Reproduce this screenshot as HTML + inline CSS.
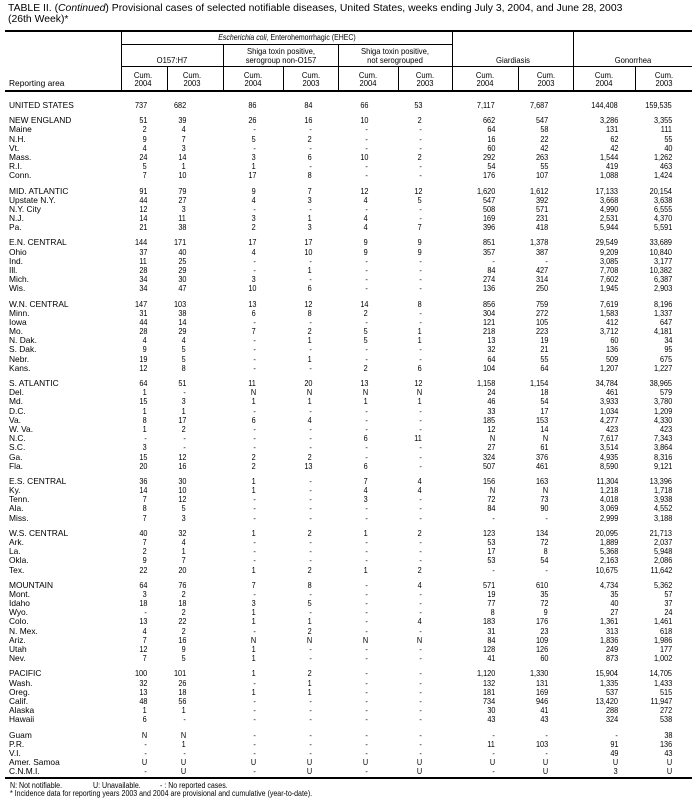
<!DOCTYPE html>
<html><head><meta charset="utf-8"><style>
*{margin:0;padding:0}
body{width:695px;height:811px;position:relative;background:#fff;color:#000;font-family:"Liberation Sans",Arial,sans-serif;overflow:hidden}
.ti{position:absolute;left:8px;font-size:10.4px;line-height:10px;white-space:nowrap}
.l{position:absolute;background:#000}
.h{position:absolute;font-size:8.5px;line-height:10px;white-space:nowrap;transform:translateX(-50%) scaleX(.9);transform-origin:50% 50%}
.h.e{transform:translateX(-50%) scaleX(.82)}
.g{position:absolute;left:0;width:695px}
.r{position:relative;height:9.2px;font-size:8.4px;line-height:10px}
.r span{position:absolute;top:0;white-space:nowrap}
.r span:first-child{left:9px}
.r span+span{font-size:8.5px;transform:scaleX(.86);transform-origin:100% 50%}
.r span:nth-child(2){right:548px}
.r span:nth-child(3){right:509px}
.r span:nth-child(4){right:439px}
.r span:nth-child(5){right:383px}
.r span:nth-child(6){right:327px}
.r span:nth-child(7){right:273px}
.r span:nth-child(8){right:200px}
.r span:nth-child(9){right:147px}
.r span:nth-child(10){right:77px}
.r span:nth-child(11){right:23px}
.fn{position:absolute;font-size:8px;line-height:10px;white-space:nowrap;transform:scaleX(.88);transform-origin:0 50%}
.ra{position:absolute;left:9px;top:78px;font-size:8.4px;line-height:10px;white-space:nowrap}
</style></head><body>

<div class="ti" style="top:4.3px">TABLE II. (<i>Continued</i>) Provisional cases of selected notifiable diseases, United States, weeks ending July 3, 2004, and June 28, 2003</div>
<div class="ti" style="top:14.6px">(26th Week)*</div>

<!-- rules -->
<div class="l" style="left:5px;top:30px;width:687px;height:2px"></div>
<div class="l" style="left:121px;top:44px;width:331px;height:1px"></div>
<div class="l" style="left:121px;top:66px;width:571px;height:1px"></div>
<div class="l" style="left:5px;top:90px;width:687px;height:2px"></div>
<div class="l" style="left:121px;top:30px;width:1px;height:60px"></div>
<div class="l" style="left:452px;top:30px;width:1px;height:60px"></div>
<div class="l" style="left:573px;top:30px;width:1px;height:60px"></div>
<div class="l" style="left:223px;top:44px;width:1px;height:46px"></div>
<div class="l" style="left:338px;top:44px;width:1px;height:46px"></div>
<div class="l" style="left:167px;top:66px;width:1px;height:24px"></div>
<div class="l" style="left:283px;top:66px;width:1px;height:24px"></div>
<div class="l" style="left:398px;top:66px;width:1px;height:24px"></div>
<div class="l" style="left:518px;top:66px;width:1px;height:24px"></div>
<div class="l" style="left:635px;top:66px;width:1px;height:24px"></div>
<div class="l" style="left:5px;top:777px;width:687px;height:2px"></div>

<!-- header text -->
<div class="h e" style="left:286.5px;top:32px"><i>Escherichia coli,</i> Enterohemorrhagic (EHEC)</div>
<div class="h" style="left:172px;top:54.5px">O157:H7</div>
<div class="h" style="left:280.5px;top:46px">Shiga toxin positive,</div>
<div class="h" style="left:280.5px;top:54.5px">serogroup non-O157</div>
<div class="h" style="left:395px;top:46px">Shiga toxin positive,</div>
<div class="h" style="left:395px;top:54.5px">not serogrouped</div>
<div class="h" style="left:512.5px;top:54.5px">Giardiasis</div>
<div class="h" style="left:633px;top:54.5px">Gonorrhea</div>

<div class="h" style="left:143px;top:69.5px">Cum.</div><div class="h" style="left:143px;top:77.5px">2004</div>
<div class="h" style="left:192px;top:69.5px">Cum.</div><div class="h" style="left:192px;top:77.5px">2003</div>
<div class="h" style="left:253px;top:69.5px">Cum.</div><div class="h" style="left:253px;top:77.5px">2004</div>
<div class="h" style="left:310.5px;top:69.5px">Cum.</div><div class="h" style="left:310.5px;top:77.5px">2003</div>
<div class="h" style="left:368px;top:69.5px">Cum.</div><div class="h" style="left:368px;top:77.5px">2004</div>
<div class="h" style="left:425px;top:69.5px">Cum.</div><div class="h" style="left:425px;top:77.5px">2003</div>
<div class="h" style="left:485px;top:69.5px">Cum.</div><div class="h" style="left:485px;top:77.5px">2004</div>
<div class="h" style="left:545.5px;top:69.5px">Cum.</div><div class="h" style="left:545.5px;top:77.5px">2003</div>
<div class="h" style="left:604px;top:69.5px">Cum.</div><div class="h" style="left:604px;top:77.5px">2004</div>
<div class="h" style="left:663.5px;top:69.5px">Cum.</div><div class="h" style="left:663.5px;top:77.5px">2003</div>
<div class="ra">Reporting area</div>

<!-- body -->
<div class="g" style="top:100.1px">
<div class="r"><span>UNITED STATES</span><span>737</span><span>682</span><span>86</span><span>84</span><span>66</span><span>53</span><span>7,117</span><span>7,687</span><span>144,408</span><span>159,535</span></div>
</div>

<div class="g" style="top:115.2px">
<div class="r"><span>NEW ENGLAND</span><span>51</span><span>39</span><span>26</span><span>16</span><span>10</span><span>2</span><span>662</span><span>547</span><span>3,286</span><span>3,355</span></div>
<div class="r"><span>Maine</span><span>2</span><span>4</span><span>-</span><span>-</span><span>-</span><span>-</span><span>64</span><span>58</span><span>131</span><span>111</span></div>
<div class="r"><span>N.H.</span><span>9</span><span>7</span><span>5</span><span>2</span><span>-</span><span>-</span><span>16</span><span>22</span><span>62</span><span>55</span></div>
<div class="r"><span>Vt.</span><span>4</span><span>3</span><span>-</span><span>-</span><span>-</span><span>-</span><span>60</span><span>42</span><span>42</span><span>40</span></div>
<div class="r"><span>Mass.</span><span>24</span><span>14</span><span>3</span><span>6</span><span>10</span><span>2</span><span>292</span><span>263</span><span>1,544</span><span>1,262</span></div>
<div class="r"><span>R.I.</span><span>5</span><span>1</span><span>1</span><span>-</span><span>-</span><span>-</span><span>54</span><span>55</span><span>419</span><span>463</span></div>
<div class="r"><span>Conn.</span><span>7</span><span>10</span><span>17</span><span>8</span><span>-</span><span>-</span><span>176</span><span>107</span><span>1,088</span><span>1,424</span></div>
</div>

<div class="g" style="top:185.5px">
<div class="r"><span>MID. ATLANTIC</span><span>91</span><span>79</span><span>9</span><span>7</span><span>12</span><span>12</span><span>1,620</span><span>1,612</span><span>17,133</span><span>20,154</span></div>
<div class="r"><span>Upstate N.Y.</span><span>44</span><span>27</span><span>4</span><span>3</span><span>4</span><span>5</span><span>547</span><span>392</span><span>3,668</span><span>3,638</span></div>
<div class="r"><span>N.Y. City</span><span>12</span><span>3</span><span>-</span><span>-</span><span>-</span><span>-</span><span>508</span><span>571</span><span>4,990</span><span>6,555</span></div>
<div class="r"><span>N.J.</span><span>14</span><span>11</span><span>3</span><span>1</span><span>4</span><span>-</span><span>169</span><span>231</span><span>2,531</span><span>4,370</span></div>
<div class="r"><span>Pa.</span><span>21</span><span>38</span><span>2</span><span>3</span><span>4</span><span>7</span><span>396</span><span>418</span><span>5,944</span><span>5,591</span></div>
</div>

<div class="g" style="top:237.4px">
<div class="r"><span>E.N. CENTRAL</span><span>144</span><span>171</span><span>17</span><span>17</span><span>9</span><span>9</span><span>851</span><span>1,378</span><span>29,549</span><span>33,689</span></div>
<div class="r"><span>Ohio</span><span>37</span><span>40</span><span>4</span><span>10</span><span>9</span><span>9</span><span>357</span><span>387</span><span>9,209</span><span>10,840</span></div>
<div class="r"><span>Ind.</span><span>11</span><span>25</span><span>-</span><span>-</span><span>-</span><span>-</span><span>-</span><span>-</span><span>3,085</span><span>3,177</span></div>
<div class="r"><span>Ill.</span><span>28</span><span>29</span><span>-</span><span>1</span><span>-</span><span>-</span><span>84</span><span>427</span><span>7,708</span><span>10,382</span></div>
<div class="r"><span>Mich.</span><span>34</span><span>30</span><span>3</span><span>-</span><span>-</span><span>-</span><span>274</span><span>314</span><span>7,602</span><span>6,387</span></div>
<div class="r"><span>Wis.</span><span>34</span><span>47</span><span>10</span><span>6</span><span>-</span><span>-</span><span>136</span><span>250</span><span>1,945</span><span>2,903</span></div>
</div>

<div class="g" style="top:298.5px">
<div class="r"><span>W.N. CENTRAL</span><span>147</span><span>103</span><span>13</span><span>12</span><span>14</span><span>8</span><span>856</span><span>759</span><span>7,619</span><span>8,196</span></div>
<div class="r"><span>Minn.</span><span>31</span><span>38</span><span>6</span><span>8</span><span>2</span><span>-</span><span>304</span><span>272</span><span>1,583</span><span>1,337</span></div>
<div class="r"><span>Iowa</span><span>44</span><span>14</span><span>-</span><span>-</span><span>-</span><span>-</span><span>121</span><span>105</span><span>412</span><span>647</span></div>
<div class="r"><span>Mo.</span><span>28</span><span>29</span><span>7</span><span>2</span><span>5</span><span>1</span><span>218</span><span>223</span><span>3,712</span><span>4,181</span></div>
<div class="r"><span>N. Dak.</span><span>4</span><span>4</span><span>-</span><span>1</span><span>5</span><span>1</span><span>13</span><span>19</span><span>60</span><span>34</span></div>
<div class="r"><span>S. Dak.</span><span>9</span><span>5</span><span>-</span><span>-</span><span>-</span><span>-</span><span>32</span><span>21</span><span>136</span><span>95</span></div>
<div class="r"><span>Nebr.</span><span>19</span><span>5</span><span>-</span><span>1</span><span>-</span><span>-</span><span>64</span><span>55</span><span>509</span><span>675</span></div>
<div class="r"><span>Kans.</span><span>12</span><span>8</span><span>-</span><span>-</span><span>2</span><span>6</span><span>104</span><span>64</span><span>1,207</span><span>1,227</span></div>
</div>

<div class="g" style="top:378px">
<div class="r"><span>S. ATLANTIC</span><span>64</span><span>51</span><span>11</span><span>20</span><span>13</span><span>12</span><span>1,158</span><span>1,154</span><span>34,784</span><span>38,965</span></div>
<div class="r"><span>Del.</span><span>1</span><span>-</span><span>N</span><span>N</span><span>N</span><span>N</span><span>24</span><span>18</span><span>461</span><span>579</span></div>
<div class="r"><span>Md.</span><span>15</span><span>3</span><span>1</span><span>1</span><span>1</span><span>1</span><span>46</span><span>54</span><span>3,933</span><span>3,780</span></div>
<div class="r"><span>D.C.</span><span>1</span><span>1</span><span>-</span><span>-</span><span>-</span><span>-</span><span>33</span><span>17</span><span>1,034</span><span>1,209</span></div>
<div class="r"><span>Va.</span><span>8</span><span>17</span><span>6</span><span>4</span><span>-</span><span>-</span><span>185</span><span>153</span><span>4,277</span><span>4,330</span></div>
<div class="r"><span>W. Va.</span><span>1</span><span>2</span><span>-</span><span>-</span><span>-</span><span>-</span><span>12</span><span>14</span><span>423</span><span>423</span></div>
<div class="r"><span>N.C.</span><span>-</span><span>-</span><span>-</span><span>-</span><span>6</span><span>11</span><span>N</span><span>N</span><span>7,617</span><span>7,343</span></div>
<div class="r"><span>S.C.</span><span>3</span><span>-</span><span>-</span><span>-</span><span>-</span><span>-</span><span>27</span><span>61</span><span>3,514</span><span>3,864</span></div>
<div class="r"><span>Ga.</span><span>15</span><span>12</span><span>2</span><span>2</span><span>-</span><span>-</span><span>324</span><span>376</span><span>4,935</span><span>8,316</span></div>
<div class="r"><span>Fla.</span><span>20</span><span>16</span><span>2</span><span>13</span><span>6</span><span>-</span><span>507</span><span>461</span><span>8,590</span><span>9,121</span></div>
</div>

<div class="g" style="top:475.9px">
<div class="r"><span>E.S. CENTRAL</span><span>36</span><span>30</span><span>1</span><span>-</span><span>7</span><span>4</span><span>156</span><span>163</span><span>11,304</span><span>13,396</span></div>
<div class="r"><span>Ky.</span><span>14</span><span>10</span><span>1</span><span>-</span><span>4</span><span>4</span><span>N</span><span>N</span><span>1,218</span><span>1,718</span></div>
<div class="r"><span>Tenn.</span><span>7</span><span>12</span><span>-</span><span>-</span><span>3</span><span>-</span><span>72</span><span>73</span><span>4,018</span><span>3,938</span></div>
<div class="r"><span>Ala.</span><span>8</span><span>5</span><span>-</span><span>-</span><span>-</span><span>-</span><span>84</span><span>90</span><span>3,069</span><span>4,552</span></div>
<div class="r"><span>Miss.</span><span>7</span><span>3</span><span>-</span><span>-</span><span>-</span><span>-</span><span>-</span><span>-</span><span>2,999</span><span>3,188</span></div>
</div>

<div class="g" style="top:527.8px">
<div class="r"><span>W.S. CENTRAL</span><span>40</span><span>32</span><span>1</span><span>2</span><span>1</span><span>2</span><span>123</span><span>134</span><span>20,095</span><span>21,713</span></div>
<div class="r"><span>Ark.</span><span>7</span><span>4</span><span>-</span><span>-</span><span>-</span><span>-</span><span>53</span><span>72</span><span>1,889</span><span>2,037</span></div>
<div class="r"><span>La.</span><span>2</span><span>1</span><span>-</span><span>-</span><span>-</span><span>-</span><span>17</span><span>8</span><span>5,368</span><span>5,948</span></div>
<div class="r"><span>Okla.</span><span>9</span><span>7</span><span>-</span><span>-</span><span>-</span><span>-</span><span>53</span><span>54</span><span>2,163</span><span>2,086</span></div>
<div class="r"><span>Tex.</span><span>22</span><span>20</span><span>1</span><span>2</span><span>1</span><span>2</span><span>-</span><span>-</span><span>10,675</span><span>11,642</span></div>
</div>

<div class="g" style="top:579.7px">
<div class="r"><span>MOUNTAIN</span><span>64</span><span>76</span><span>7</span><span>8</span><span>-</span><span>4</span><span>571</span><span>610</span><span>4,734</span><span>5,362</span></div>
<div class="r"><span>Mont.</span><span>3</span><span>2</span><span>-</span><span>-</span><span>-</span><span>-</span><span>19</span><span>35</span><span>35</span><span>57</span></div>
<div class="r"><span>Idaho</span><span>18</span><span>18</span><span>3</span><span>5</span><span>-</span><span>-</span><span>77</span><span>72</span><span>40</span><span>37</span></div>
<div class="r"><span>Wyo.</span><span>-</span><span>2</span><span>1</span><span>-</span><span>-</span><span>-</span><span>8</span><span>9</span><span>27</span><span>24</span></div>
<div class="r"><span>Colo.</span><span>13</span><span>22</span><span>1</span><span>1</span><span>-</span><span>4</span><span>183</span><span>176</span><span>1,361</span><span>1,461</span></div>
<div class="r"><span>N. Mex.</span><span>4</span><span>2</span><span>-</span><span>2</span><span>-</span><span>-</span><span>31</span><span>23</span><span>313</span><span>618</span></div>
<div class="r"><span>Ariz.</span><span>7</span><span>16</span><span>N</span><span>N</span><span>N</span><span>N</span><span>84</span><span>109</span><span>1,836</span><span>1,986</span></div>
<div class="r"><span>Utah</span><span>12</span><span>9</span><span>1</span><span>-</span><span>-</span><span>-</span><span>128</span><span>126</span><span>249</span><span>177</span></div>
<div class="r"><span>Nev.</span><span>7</span><span>5</span><span>1</span><span>-</span><span>-</span><span>-</span><span>41</span><span>60</span><span>873</span><span>1,002</span></div>
</div>

<div class="g" style="top:668.4px">
<div class="r"><span>PACIFIC</span><span>100</span><span>101</span><span>1</span><span>2</span><span>-</span><span>-</span><span>1,120</span><span>1,330</span><span>15,904</span><span>14,705</span></div>
<div class="r"><span>Wash.</span><span>32</span><span>26</span><span>-</span><span>1</span><span>-</span><span>-</span><span>132</span><span>131</span><span>1,335</span><span>1,433</span></div>
<div class="r"><span>Oreg.</span><span>13</span><span>18</span><span>1</span><span>1</span><span>-</span><span>-</span><span>181</span><span>169</span><span>537</span><span>515</span></div>
<div class="r"><span>Calif.</span><span>48</span><span>56</span><span>-</span><span>-</span><span>-</span><span>-</span><span>734</span><span>946</span><span>13,420</span><span>11,947</span></div>
<div class="r"><span>Alaska</span><span>1</span><span>1</span><span>-</span><span>-</span><span>-</span><span>-</span><span>30</span><span>41</span><span>288</span><span>272</span></div>
<div class="r"><span>Hawaii</span><span>6</span><span>-</span><span>-</span><span>-</span><span>-</span><span>-</span><span>43</span><span>43</span><span>324</span><span>538</span></div>
</div>

<div class="g" style="top:729.5px">
<div class="r"><span>Guam</span><span>N</span><span>N</span><span>-</span><span>-</span><span>-</span><span>-</span><span>-</span><span>-</span><span>-</span><span>38</span></div>
<div class="r"><span>P.R.</span><span>-</span><span>1</span><span>-</span><span>-</span><span>-</span><span>-</span><span>11</span><span>103</span><span>91</span><span>136</span></div>
<div class="r"><span>V.I.</span><span>-</span><span>-</span><span>-</span><span>-</span><span>-</span><span>-</span><span>-</span><span>-</span><span>49</span><span>43</span></div>
<div class="r"><span>Amer. Samoa</span><span>U</span><span>U</span><span>U</span><span>U</span><span>U</span><span>U</span><span>U</span><span>U</span><span>U</span><span>U</span></div>
<div class="r"><span>C.N.M.I.</span><span>-</span><span>U</span><span>-</span><span>U</span><span>-</span><span>U</span><span>-</span><span>U</span><span>3</span><span>U</span></div>
</div>

<!-- footnotes -->
<div class="fn" style="left:10px;top:781.3px">N: Not notifiable.</div>
<div class="fn" style="left:93px;top:781.3px">U: Unavailable.</div>
<div class="fn" style="left:160px;top:781.3px">- : No reported cases.</div>
<div class="fn" style="left:10px;top:789.3px">* Incidence data for reporting years 2003 and 2004 are provisional and cumulative (year-to-date).</div>

</body></html>
